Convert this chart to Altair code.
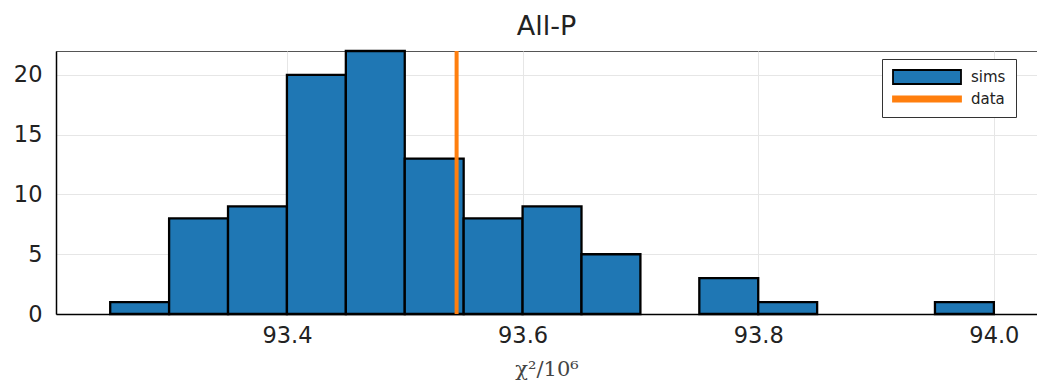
import altair as alt
import pandas as pd

# ---- data ----
bin_starts = [93.25, 93.30, 93.35, 93.40, 93.45, 93.50, 93.55, 93.60,
              93.65, 93.70, 93.75, 93.80, 93.85, 93.90, 93.95]
counts = [1, 8, 9, 20, 22, 13, 8, 9, 5, 0, 3, 1, 0, 0, 1]
bin_width = 0.05
data_value = 93.544
series_names = ["sims", "data"]
series_fills = ["#1f77b4", "#ff7f0e"]
series_strokes = ["black", "#ff7f0e"]
x_ticks = [93.4, 93.6, 93.8, 94.0]
y_ticks = [0, 5, 10, 15, 20]

bars = pd.DataFrame({
    "start": bin_starts,
    "end": [round(s + bin_width, 2) for s in bin_starts],
    "count": counts,
    "series": "sims",
})
bars = bars[bars["count"] > 0]
line = pd.DataFrame({"x": [data_value], "series": ["data"]})

FONT = "DejaVu Sans"

color_scale = alt.Scale(domain=series_names, range=series_fills)
stroke_scale = alt.Scale(domain=series_names, range=series_strokes)
legend = alt.Legend(
    title=None, orient="none", legendX=826, legendY=8,
    direction="vertical",
    symbolType={"expr": "datum.value == 'sims' ? 'M-1,-1L8.714,-1L8.714,1L-1,1Z' : 'M-1,-0.36L8.714,-0.36L8.714,0.36L-1,0.36Z'"},
    symbolSize=196,
    symbolStrokeWidth=1.8,
    symbolOpacity=1,
    labelFont=FONT, labelFontSize=15, labelColor="#222",
    rowPadding=3, labelOffset=63,
    padding=10, strokeColor="#333", fillColor="white", cornerRadius=0,
)

xscale = alt.Scale(domain=[93.204, 94.0366], nice=False, zero=False)
yscale = alt.Scale(domain=[0, 22], nice=False)

hist = alt.Chart(bars).mark_bar(strokeWidth=2.3, opacity=1).encode(
    x=alt.X("start:Q", scale=xscale,
            axis=alt.Axis(values=x_ticks, format=".1f", title="χ²/10⁶",
                          titleFont="DejaVu Serif", titleFontSize=21,
                          titleFontWeight="normal", titleColor="#444",
                          titlePadding=12,
                          labelFont=FONT, labelFontSize=22.5, labelColor="#222",
                          labelPadding=10, ticks=False, labelFlush=False,
                          domainColor="black", domainWidth=1.5,
                          gridColor="#e6e6e6", gridWidth=1)),
    x2="end:Q",
    y=alt.Y("count:Q", scale=yscale,
            axis=alt.Axis(values=y_ticks, title=None,
                          labelFont=FONT, labelFontSize=22.5, labelColor="#222",
                          labelPadding=14, ticks=False, labelFlush=False,
                          domainColor="black", domainWidth=1.5,
                          gridColor="#e6e6e6", gridWidth=1)),
    y2=alt.datum(0),
    color=alt.Color("series:N", scale=color_scale, legend=legend),
    stroke=alt.Stroke("series:N", scale=stroke_scale, legend=legend),
)

vline = alt.Chart(line).mark_rule(strokeWidth=4).encode(
    x=alt.X("x:Q", scale=xscale),
    color=alt.Color("series:N", scale=color_scale, legend=legend),
    stroke=alt.Stroke("series:N", scale=stroke_scale, legend=legend),
)

chart = alt.layer(hist, vline).properties(
    width=981, height=263,
    padding={"left": 5, "right": 0, "top": 5, "bottom": 2},
    title=alt.TitleParams("All-P", font=FONT, fontSize=27, fontWeight="normal",
                          color="#222", offset=8, anchor="middle"),
).configure_view(stroke="#555", strokeWidth=1)

chart.save("out.html", embed_options={"renderer": "svg", "actions": False})
